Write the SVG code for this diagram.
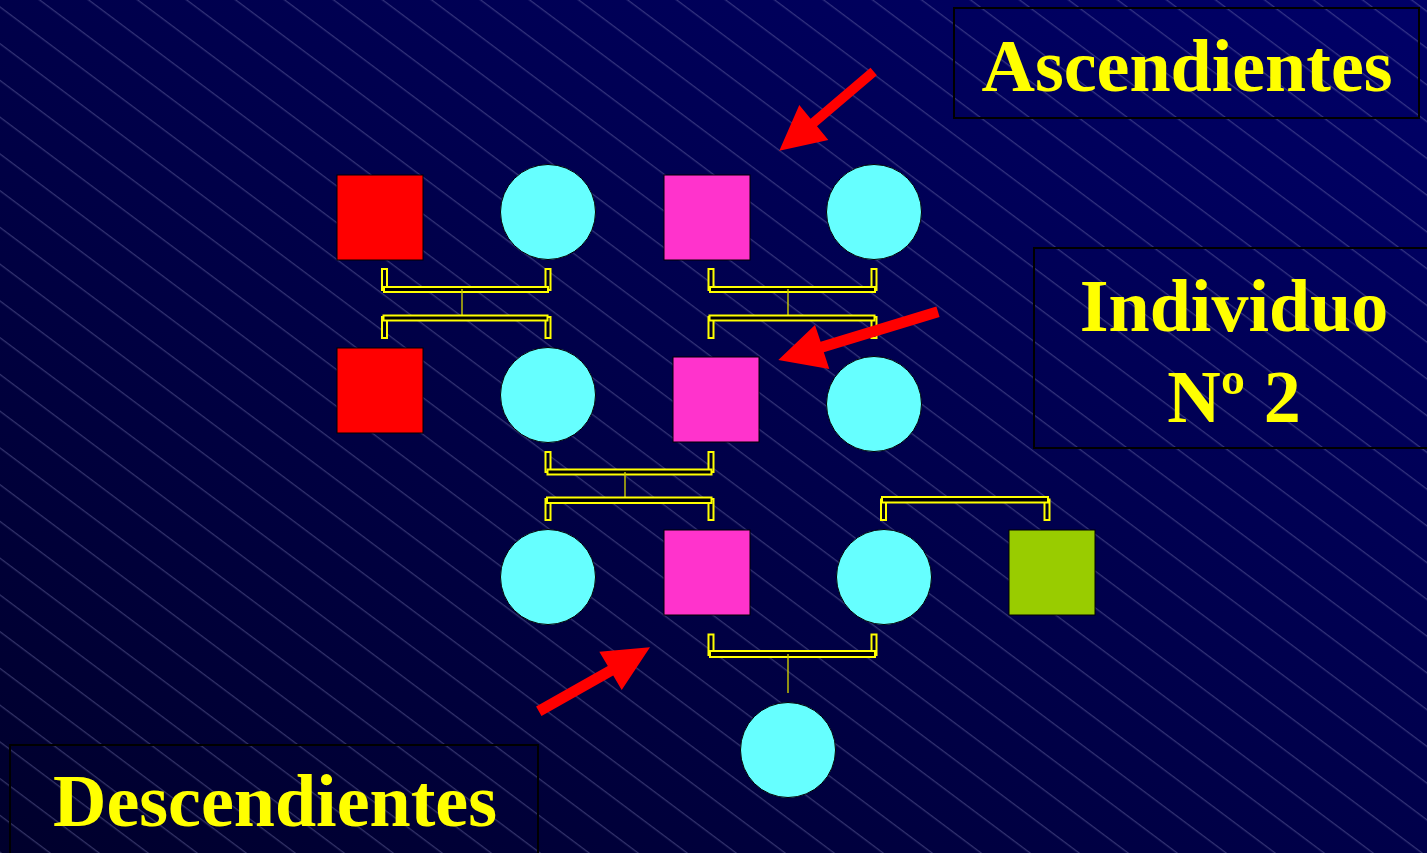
<svg xmlns="http://www.w3.org/2000/svg" width="1427" height="853" viewBox="0 0 1427 853">
  <defs>
    <linearGradient id="bg" x1="0" y1="1" x2="1" y2="0">
      <stop offset="0" stop-color="#00002C"/>
      <stop offset="1" stop-color="#000068"/>
    </linearGradient>
    <pattern id="hatch" patternUnits="userSpaceOnUse" width="200" height="29.4" patternTransform="rotate(36.87)">
      <line x1="0" y1="5.6" x2="200" y2="5.6" stroke="#8888BB" stroke-opacity="0.5" stroke-width="1"/>
    </pattern>
  </defs>
  <style>
    .box { fill: none; stroke: #000000; stroke-width: 2; }
    .lbl { font-family: "Liberation Serif", "Times New Roman", serif; font-weight: bold; font-size: 74px; fill: #FFFF00; text-anchor: middle; }
    .fem { fill: #66FFFF; stroke: #000000; stroke-width: 1; }
    .red { fill: #FF0000; stroke: #000000; stroke-width: 1; }
    .mag { fill: #FF33CC; stroke: #000000; stroke-width: 1; }
    .grn { fill: #99CC00; stroke: #000000; stroke-width: 1; }
    .post { fill: #000020; stroke: #FFFF00; stroke-width: 2; }
    .bar { fill: #000000; stroke: #FFFF00; stroke-width: 2; }
    .stem { stroke: #CCCC00; stroke-width: 1.4; }
    .arrow { fill: #FF0000; }
  </style>

  <rect x="0" y="0" width="1427" height="853" fill="url(#bg)"/>
  <rect x="0" y="0" width="1427" height="853" fill="url(#hatch)"/>

  <g id="label-ascendientes">
    <rect class="box" x="954" y="8" width="465" height="110"/>
    <text class="lbl" x="1187" y="91">Ascendientes</text>
  </g>
  <g id="label-individuo">
    <rect class="box" x="1034" y="248" width="400" height="200"/>
    <text class="lbl" x="1234" y="331">Individuo</text>
    <text class="lbl" x="1234" y="422">Nº 2</text>
  </g>
  <g id="label-descendientes">
    <rect class="box" x="10" y="745" width="528" height="120"/>
    <text class="lbl" x="275" y="826">Descendientes</text>
  </g>

  <g id="connectors">
    <!-- pair 1 -->
    <rect class="post" x="382" y="269" width="5" height="21"/>
    <rect class="post" x="545.5" y="269" width="5" height="21"/>
    <rect class="bar" x="384" y="287" width="164" height="5"/>
    <line class="stem" x1="462" y1="289" x2="462" y2="318"/>
    <rect class="post" x="382" y="317" width="5" height="21"/>
    <rect class="post" x="545.5" y="317" width="5" height="21"/>
    <rect class="bar" x="383.5" y="315.5" width="164" height="5"/>
    <!-- pair 2 -->
    <rect class="post" x="708.5" y="269" width="5" height="21"/>
    <rect class="post" x="871.5" y="269" width="5" height="21"/>
    <rect class="bar" x="710" y="287" width="165" height="5"/>
    <line class="stem" x1="788" y1="289" x2="788" y2="318"/>
    <rect class="post" x="708.5" y="317" width="5" height="21"/>
    <rect class="post" x="871.5" y="317" width="5" height="21"/>
    <rect class="bar" x="709.5" y="315.5" width="165" height="5"/>
    <!-- middle pair -->
    <rect class="post" x="545.5" y="452" width="5" height="20"/>
    <rect class="post" x="708.5" y="452" width="5" height="20"/>
    <rect class="bar" x="547.5" y="469.5" width="164" height="5"/>
    <line class="stem" x1="625" y1="472" x2="625" y2="500"/>
    <rect class="post" x="545.5" y="499" width="5" height="21"/>
    <rect class="post" x="708.5" y="499" width="5" height="21"/>
    <rect class="bar" x="547" y="497.5" width="164.5" height="5.5"/>
    <!-- sibship right -->
    <rect class="post" x="881" y="499.5" width="5" height="20.5"/>
    <rect class="post" x="1044.5" y="499.5" width="5" height="20.5"/>
    <rect class="bar" x="882" y="497" width="166" height="5.5"/>
    <!-- bottom pair -->
    <rect class="post" x="708.5" y="634.5" width="5" height="20.5"/>
    <rect class="post" x="871.5" y="634.5" width="5" height="20.5"/>
    <rect class="bar" x="710" y="651" width="165" height="6"/>
    <line class="stem" x1="788" y1="654" x2="788" y2="693"/>
  </g>

  <g id="arrows">
    <polygon id="arrow-1" class="arrow" points="870.5,67.7 810.6,118.7 799.3,105 779.3,150.7 828.3,140 817,126.3 876.9,75.3"/>
    <polygon id="arrow-2" class="arrow" points="936.4,306.4 820.6,341.7 815,325 778.3,360 829.3,369 823.8,352.3 939.6,317"/>
    <polygon id="arrow-3" class="arrow" points="536.1,706.6 607.8,666.1 599.3,651.7 650,647.3 621.7,690 613.2,675.5 541.5,716"/>
  </g>

  <g id="gen1-male-a"><rect class="red" x="337" y="175" width="86" height="85"/></g>
  <g id="gen1-female-a"><circle class="fem" cx="548" cy="212" r="47.5"/></g>
  <g id="gen1-male-b"><rect class="mag" x="664" y="175" width="86" height="85"/></g>
  <g id="gen1-female-b"><circle class="fem" cx="874" cy="212" r="47.5"/></g>

  <g id="gen2-male-a"><rect class="red" x="337" y="348" width="86" height="85"/></g>
  <g id="gen2-female-a"><circle class="fem" cx="548" cy="395" r="47.5"/></g>
  <g id="gen2-male-b"><rect class="mag" x="673" y="357" width="86" height="85"/></g>
  <g id="gen2-female-b"><circle class="fem" cx="874" cy="404" r="47.5"/></g>

  <g id="gen3-female-a"><circle class="fem" cx="548" cy="577" r="47.5"/></g>
  <g id="gen3-male-b"><rect class="mag" x="664" y="530" width="86" height="85"/></g>
  <g id="gen3-female-c"><circle class="fem" cx="884" cy="577" r="47.5"/></g>
  <g id="gen3-male-d"><rect class="grn" x="1009" y="530" width="86" height="85"/></g>

  <g id="gen4-female"><circle class="fem" cx="788" cy="750" r="47.5"/></g>
</svg>
